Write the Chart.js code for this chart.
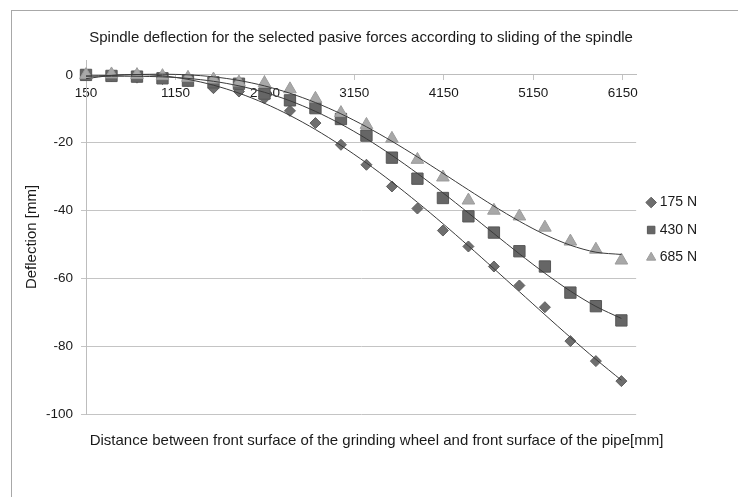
<!DOCTYPE html>
<html lang="en">
<head>
  <meta charset="UTF-8" />
  <title>Spindle deflection</title>
  <style>
    html, body {
      margin: 0;
      padding: 0;
      background: #fff;
      overflow: hidden;
    }

    .wrap {
      position: relative;
      width: 738px;
      height: 497px;
    }

    /* chart area border, cut off at the right and bottom like the source */
    .frame {
      position: absolute;
      left: 11px;
      top: 10px;
      width: 780px;
      height: 540px;
      border: 1px solid #a8a8a8;
      box-sizing: border-box;
    }

    canvas {
      position: absolute;
      left: 0;
      top: 0;
    }
  </style>
</head>
<body>
  <div class="wrap">
    <div class="frame"></div>
    <canvas id="deflectionChart" width="738" height="497"></canvas>
  </div>

  <script src="https://cdn.jsdelivr.net/npm/chart.js"></script>
  <script>
    // distance between grinding wheel and pipe front surfaces [mm]
    const distance = [150, 435, 720, 1005, 1290, 1575, 1860, 2145, 2430, 2715, 3000,
                      3285, 3570, 3855, 4140, 4425, 4710, 4995, 5280, 5565, 5850, 6135];

    // deflection [mm] per passive force
    const force175 = [0, -0.4, -0.8, -1.2, -1.8, -3.9, -4.9, -6.9, -10.6, -14.2, -20.6,
                      -26.5, -32.9, -39.4, -45.9, -50.6, -56.5, -62.1, -68.5, -78.5, -84.4, -90.3];
    const force430 = [0, -0.3, -0.5, -1, -1.7, -2.2, -2.6, -5.5, -7.5, -9.8, -13,
                      -17.9, -24.4, -30.6, -36.3, -41.7, -46.5, -52, -56.5, -64.2, -68.2, -72.4];
    const force685 = [0, 0.2, 0, -0.3, -0.8, -1.3, -2.2, -2.4, -4.2, -7, -11.2,
                      -14.7, -18.8, -25, -30.2, -37, -40, -41.7, -45, -49.1, -51.5, -54.7];

    const seriesNames = ['175 N', '430 N', '685 N'];
    const xTicks = [150, 1150, 2150, 3150, 4150, 5150, 6150];
    const yTicks = [0, -20, -40, -60, -80, -100];

    const textColor = '#1a1a1a';
    const gridColor = '#c4c4c4';

    Chart.defaults.font.family = "'Liberation Sans', Arial, sans-serif";
    Chart.defaults.font.size = 13.5;
    Chart.defaults.color = textColor;

    // polynomial trendline (least squares), like the spreadsheet one
    function polyFit(xs, ys, deg) {
      const n = deg + 1;
      const A = Array.from({ length: n }, () => new Array(n + 1).fill(0));
      xs.forEach((x, i) => {
        const t = x / 1000;
        for (let r = 0; r < n; r++) {
          for (let c = 0; c < n; c++) A[r][c] += Math.pow(t, r + c);
          A[r][n] += Math.pow(t, r) * ys[i];
        }
      });
      for (let i = 0; i < n; i++) {
        let p = i;
        for (let r = i + 1; r < n; r++) if (Math.abs(A[r][i]) > Math.abs(A[p][i])) p = r;
        [A[i], A[p]] = [A[p], A[i]];
        for (let r = 0; r < n; r++) {
          if (r === i) continue;
          const f = A[r][i] / A[i][i];
          for (let c = i; c <= n; c++) A[r][c] -= f * A[i][c];
        }
      }
      const coef = A.map((row, i) => row[n] / row[i]);
      return x => coef.reduce((s, c, k) => s + c * Math.pow(x / 1000, k), 0);
    }

    const toPoints = ys => distance.map((x, i) => ({ x: x, y: ys[i] }));
    const trend = ys => {
      const f = polyFit(distance, ys, 4);
      return distance.map(x => ({ x: x, y: f(x) }));
    };

    const markerSets = [
      { data: force175, style: 'rectRot', radius: 5.5, fill: '#6e6e6e', line: '#5e5e5e', order: 3 },
      { data: force430, style: 'rect', radius: 8, fill: '#666666', line: '#575757', order: 2 },
      { data: force685, style: 'triangle', radius: 7.3, fill: '#a8a8a8', line: '#9c9c9c', order: 1 }
    ];

    const datasets = markerSets.map((s, i) => ({
      label: seriesNames[i],
      data: toPoints(s.data),
      pointStyle: s.style,
      pointRadius: s.radius,
      backgroundColor: s.fill,
      borderColor: s.line,
      borderWidth: 1,
      showLine: false,
      clip: false,
      order: s.order
    }));

    [force175, force430, force685].forEach(ys => {
      datasets.push({
        label: 'trend',
        data: trend(ys),
        showLine: true,
        pointRadius: 0,
        borderColor: '#3a3a3a',
        borderWidth: 1,
        tension: 0.3,
        clip: false,
        order: 0
      });
    });

    new Chart(document.getElementById('deflectionChart'), {
      type: 'scatter',
      data: { datasets: datasets },
      options: {
        responsive: false,
        animation: false,
        events: [],
        layout: { padding: { top: 29, left: 46, right: 31, bottom: 0 } },
        scales: {
          x: {
            type: 'linear',
            position: { y: 0 },
            min: 150,
            max: 6300,
            afterBuildTicks: s => { s.ticks = xTicks.map(v => ({ value: v })); },
            afterFit: s => { s.height = 0; },
            grid: { drawOnChartArea: false, drawTicks: true, tickLength: 5, color: gridColor },
            border: { color: '#bdbdbd' },
            ticks: { padding: 5, maxRotation: 0, autoSkip: false, color: textColor, callback: v => String(v) }
          },
          y: {
            min: -100,
            max: 4.4,
            afterBuildTicks: s => { s.ticks = yTicks.map(v => ({ value: v })); },
            afterFit: s => { s.width = 40; },
            grid: { color: gridColor, tickLength: 5 },
            border: { color: '#bdbdbd' },
            ticks: { padding: 8, color: textColor },
            title: {
              display: true,
              text: 'Deflection [mm]',
              font: { size: 15 },
              padding: { top: -23, bottom: 0 },
              color: textColor
            }
          }
        },
        plugins: {
          title: {
            display: true,
            fullSize: false,
            text: 'Spindle deflection for the selected pasive forces according to sliding of the spindle',
            font: { size: 15, weight: 'normal' },
            color: textColor,
            padding: { top: 0, bottom: 13 }
          },
          subtitle: {
            display: true,
            position: 'bottom',
            text: 'Distance between front surface of the grinding wheel and front surface of the pipe[mm]',
            font: { size: 15 },
            color: textColor,
            padding: { top: 18, bottom: 47 }
          },
          legend: {
            position: 'right',
            align: 'start',
            fullSize: false,
            title: { display: true, text: '', font: { size: 10 }, padding: { top: 110, bottom: 0 } },
            labels: {
              usePointStyle: true,
              boxWidth: 3,
              boxHeight: 7.5,
              padding: 13.5,
              font: { size: 14 },
              color: textColor,
              filter: item => item.datasetIndex < 3,
              sort: (a, b) => a.datasetIndex - b.datasetIndex
            }
          },
          tooltip: { enabled: false }
        }
      }
    });
  </script>
</body>
</html>
